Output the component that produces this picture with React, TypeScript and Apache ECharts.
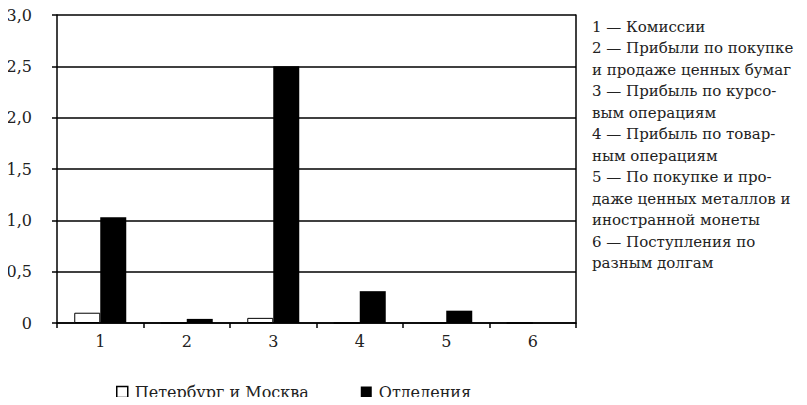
import React, { useEffect, useRef } from "react";
import * as echarts from "echarts";

const categories = ["1", "2", "3", "4", "5", "6"];
const seriesNames = ["Петербург и Москва", "Отделения"];
const capitalValues = [0.1, 0, 0.05, 0, 0, 0];
const branchValues = [1.03, 0.04, 2.5, 0.31, 0.12, 0];
const yTicks = { min: 0, max: 3, interval: 0.5 };
const noteLines = [
  "1 — Комиссии",
  "2 — Прибыли по покупке",
  "и продаже ценных бумаг",
  "3 — Прибыль по курсо-",
  "вым операциям",
  "4 — Прибыль по товар-",
  "ным операциям",
  "5 — По покупке и про-",
  "даже ценных металлов и",
  "иностранной монеты",
  "6 — Поступления по",
  "разным долгам",
];
const unitLabel = "руб.";

const FONT = "'DejaVu Serif', serif";

export default function App() {
  const ref = useRef<HTMLDivElement>(null);
  useEffect(() => {
    if (!ref.current) return;
    const chart = echarts.init(ref.current, null, { renderer: "svg" });
    chart.setOption({
      animation: false,
      backgroundColor: "#fff",
      textStyle: { fontFamily: FONT, color: "#222" },
      grid: { left: 57, right: 231, top: 15, bottom: 82, containLabel: false },
      legend: {
        data: [
          { name: seriesNames[0], itemStyle: { color: "#fff", borderColor: "#000", borderWidth: 1.5 } },
          { name: seriesNames[1], itemStyle: { color: "#000" } },
        ],
        left: 116,
        top: 384,
        padding: 0,
        icon: "rect",
        itemWidth: 11,
        itemHeight: 11,
        itemGap: 52,
        textStyle: { fontFamily: FONT, fontSize: 16, color: "#222", padding: [0, 0, 0, 2] },
      },
      xAxis: {
        type: "category",
        data: categories,
        boundaryGap: true,
        axisLine: { show: true, lineStyle: { color: "#000", width: 1.5 } },
        axisTick: { show: true, length: 5, lineStyle: { color: "#000", width: 1.5 } },
        axisLabel: { fontFamily: FONT, fontSize: 16, color: "#222", margin: 10 },
        splitLine: { show: false },
      },
      yAxis: [
        {
          type: "value",
          min: yTicks.min,
          max: yTicks.max,
          interval: yTicks.interval,
          axisLine: { show: true, lineStyle: { color: "#000", width: 1.5 } },
          axisTick: { show: true, length: 5, lineStyle: { color: "#000", width: 1.5 } },
          axisLabel: {
            fontFamily: FONT,
            fontSize: 16,
            color: "#222",
            margin: 25,
            formatter: (v: number) => v === 0 ? "0" : v.toFixed(1).replace(".", ","),
          },
          splitLine: { show: true, lineStyle: { color: "#000", width: 1.5 } },
        },
        {
          type: "value",
          position: "right",
          min: yTicks.min,
          max: yTicks.max,
          interval: yTicks.interval,
          axisLine: { show: true, lineStyle: { color: "#000", width: 1.5 } },
          axisTick: { show: false },
          axisLabel: { show: false },
          splitLine: { show: false },
        },
      ],
      series: [
        {
          name: seriesNames[0],
          type: "bar",
          data: capitalValues,
          barWidth: 26,
          barGap: "0%",
          itemStyle: { color: "#fff", borderColor: "#000", borderWidth: 1 },
        },
        {
          name: seriesNames[1],
          type: "bar",
          data: branchValues,
          barWidth: 26,
          barGap: "0%",
          itemStyle: { color: "#000" },
        },
      ],
      graphic: [
        {
          type: "text",
          left: 592,
          top: 16,
          style: {
            text: noteLines.join("\n"),
            font: `15px ${FONT}`,
            fill: "#222",
            lineHeight: 21.5,
          },
        },
        {
          type: "text",
          x: 40,
          y: -14,
          style: { text: unitLabel, font: `16px ${FONT}`, fill: "#222" },
        },
      ],
    });
    return () => chart.dispose();
  }, []);
  return <div ref={ref} style={{ width: 807, height: 405, margin: -8 }} />;
}
